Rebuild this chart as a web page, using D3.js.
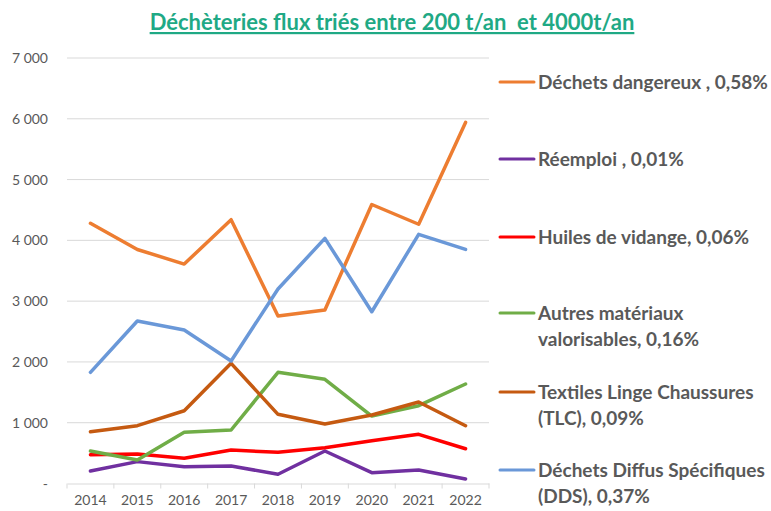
<!DOCTYPE html>
<html>
<head>
<meta charset="utf-8">
<script src="https://cdn.jsdelivr.net/npm/d3@7"></script>
<style>
  body { margin: 0; background: #fff; }
  text { font-family: Lato, "Open Sans", sans-serif; }
</style>
</head>
<body>
<div id="chart"></div>
<script>
var years = [2014, 2015, 2016, 2017, 2018, 2019, 2020, 2021, 2022];
var yTicks = [0, 1000, 2000, 3000, 4000, 5000, 6000, 7000];

var dechetsDangereux = [4280, 3850, 3610, 4340, 2755, 2855, 4590, 4265, 5940];
var reemploi         = [205, 360, 276, 288, 152, 535, 178, 222, 75];
var huilesVidange    = [474, 485, 414, 551, 513, 589, 704, 809, 572];
var autresMateriaux  = [535, 387, 842, 880, 1829, 1714, 1110, 1280, 1637];
var textilesTLC      = [852, 951, 1197, 1977, 1138, 979, 1127, 1340, 951];
var dds              = [1829, 2673, 2525, 2015, 3200, 4033, 2826, 4099, 3852];

var seriesNames = [
  ["Déchets dangereux , 0,58%"],
  ["Réemploi , 0,01%"],
  ["Huiles de vidange, 0,06%"],
  ["Autres matériaux", "valorisables, 0,16%"],
  ["Textiles Linge Chaussures", "(TLC), 0,09%"],
  ["Déchets Diffus Spécifiques", "(DDS), 0,37%"]
];
var seriesValues = [dechetsDangereux, reemploi, huilesVidange, autresMateriaux, textilesTLC, dds];
var seriesColors = ["#ED7D31", "#7030A0", "#FF0000", "#70AD47", "#C55A11", "#6A98D8"];

var W = 771, H = 511;
var svg = d3.select("#chart").append("svg").attr("width", W).attr("height", H);

var x = d3.scaleBand().domain(years).range([67, 489]);
var y = d3.scaleLinear().domain([0, 7000]).range([483.5, 58]);

var fr = d3.formatLocale({ decimal: ",", thousands: "\u00a0", grouping: [3], currency: ["", "€"] });
var fmt = fr.format(",.0f");

// gridlines
svg.append("g").selectAll("line").data(yTicks.filter(function(d) { return d > 0; }))
  .enter().append("line")
  .attr("x1", 67).attr("x2", 489)
  .attr("y1", function(d) { return y(d); }).attr("y2", function(d) { return y(d); })
  .style("stroke", "#d9d9d9").style("stroke-width", 1);

// y labels
svg.append("g").selectAll("text").data(yTicks)
  .enter().append("text")
  .attr("x", 48).attr("y", function(d) { return y(d) + 5; })
  .attr("text-anchor", "end")
  .attr("fill", "#595959").attr("font-size", "14px")
  .text(function(d) { return d === 0 ? "-" : fmt(d); });

// x axis
var xAxis = d3.axisBottom(x).tickSize(0).tickPadding(12);
var gx = svg.append("g").attr("transform", "translate(0," + y(0) + ")").call(xAxis);
gx.select(".domain").style("stroke", "#d9d9d9");
gx.selectAll("text").attr("fill", "#595959").attr("font-size", "14px")
  .attr("font-family", "Lato, 'Open Sans', sans-serif");
var bounds = years.map(function(d) { return x(d); }).concat([x.range()[1]]);
gx.selectAll(".bnd").data(bounds).enter().append("line").attr("class", "bnd")
  .attr("x1", function(d) { return d; }).attr("x2", function(d) { return d; })
  .attr("y1", 0).attr("y2", 5).style("stroke", "#d9d9d9");

// lines
var line = d3.line()
  .x(function(d, i) { return x(years[i]) + x.bandwidth() / 2; })
  .y(function(d) { return y(d); });

svg.append("g").selectAll("path").data(seriesValues)
  .enter().append("path")
  .attr("d", function(d) { return line(d); })
  .attr("fill", "none")
  .attr("stroke", function(d, i) { return seriesColors[i]; })
  .attr("stroke-width", 3.5)
  .attr("stroke-linejoin", "round")
  .attr("stroke-linecap", "round");

// title
svg.append("text")
  .attr("x", 392).attr("y", 30)
  .attr("text-anchor", "middle")
  .attr("fill", "#1FA985").attr("font-size", "22px").attr("font-weight", "bold")
  .attr("text-decoration", "underline")
  .text("Déchèteries flux triés entre 200 t/an  et 4000t/an")
  .style("white-space", "pre");

// legend
var legendY = [82, 159, 237, 313, 392, 470];
var lg = svg.append("g").selectAll("g").data(seriesNames)
  .enter().append("g")
  .attr("transform", function(d, i) { return "translate(500," + legendY[i] + ")"; });
lg.append("line")
  .attr("x1", 0).attr("x2", 34).attr("y1", 0).attr("y2", 0)
  .attr("stroke", function(d, i) { return seriesColors[i]; })
  .attr("stroke-width", 3).attr("stroke-linecap", "round");
lg.append("text")
  .attr("x", 38).attr("y", 7)
  .attr("fill", "#595959").attr("font-size", "19px").attr("font-weight", "bold")
  .selectAll("tspan").data(function(d) { return d; })
  .enter().append("tspan")
  .attr("x", 38).attr("dy", function(d, i) { return i === 0 ? 0 : 26; })
  .text(function(d) { return d; });
</script>
</body>
</html>
